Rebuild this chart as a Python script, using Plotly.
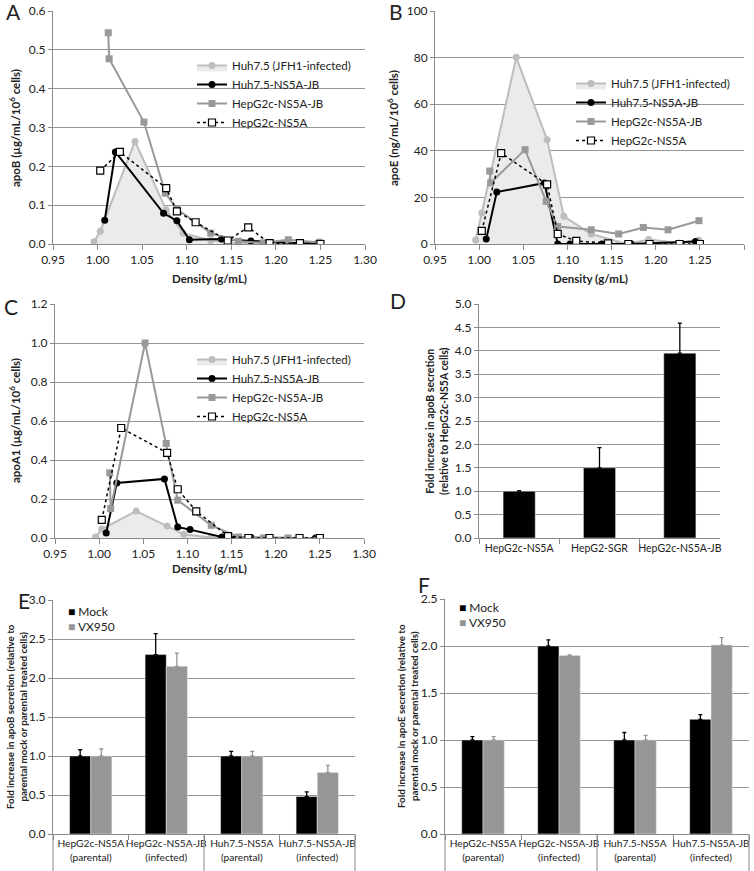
import plotly.graph_objects as go

# ---------------- data ----------------
# densities (g/mL) of the fractions, per series
density_jfh1 = [0.996, 1.003, 1.042, 1.077, 1.096, 1.127, 1.167, 1.192, 1.227, 1.249]
density_huh_jb = [1.008, 1.020, 1.074, 1.089, 1.103, 1.139, 1.172, 1.245]
density_hepg2_jb = [1.012, 1.013, 1.052, 1.076, 1.089, 1.127, 1.158, 1.186, 1.214, 1.249]
density_hepg2 = [1.003, 1.025, 1.077, 1.089, 1.110, 1.146, 1.169, 1.193, 1.227, 1.250]

series_names = ["Huh7.5 (JFH1-infected)", "Huh7.5-NS5A-JB", "HepG2c-NS5A-JB", "HepG2c-NS5A"]

# Panel A: apoB (ug/mL/10^6 cells)
apoB_jfh1 = [0.006, 0.033, 0.264, 0.088, 0.028, 0.009, 0.0, 0.003, 0.002, 0.006]
apoB_huh_jb = [0.061, 0.237, 0.079, 0.060, 0.011, 0.013, 0.008, 0.0]
apoB_hepg2_jb = [0.544, 0.477, 0.314, 0.131, 0.090, 0.028, 0.007, 0.003, 0.011, 0.004]
apoB_hepg2 = [0.189, 0.237, 0.144, 0.084, 0.056, 0.009, 0.043, 0.002, 0.002, 0.0]

# Panel B: apoE (ng/mL/10^6 cells)
apoE_jfh1 = [1.7, 13.3, 80.1, 44.7, 11.9, 4.3, 0.0, 1.9, 0.4, 1.6]
apoE_huh_jb = [2.1, 22.3, 26.2, 0.0, 0.0, 0.0, 0.0, 1.1]
apoE_hepg2_jb = [31.3, 26.2, 40.5, 18.3, 7.5, 6.1, 4.3, 7.1, 6.1, 10.0]
apoE_hepg2 = [5.6, 39.0, 25.6, 4.3, 1.3, 0.3, 0.0, 0.0, 0.0, 0.0]

# Panel C: apoA1 (ug/mL/10^6 cells)
apoA1_jfh1 = [0.005, 0.046, 0.138, 0.062, 0.019, 0.002, 0.0, 0.0, 0.0, 0.0]
apoA1_huh_jb = [0.026, 0.282, 0.303, 0.056, 0.043, 0.005, 0.002, 0.0]
apoA1_hepg2_jb = [0.334, 0.151, 1.0, 0.485, 0.194, 0.065, 0.005, 0.0, 0.0, 0.0]
apoA1_hepg2 = [0.093, 0.564, 0.437, 0.250, 0.137, 0.010, 0.0, 0.0, 0.0, 0.0]

# Panel D
d_categories = ["HepG2c-NS5A", "HepG2-SGR", "HepG2c-NS5A-JB"]
d_values = [1.0, 1.5, 3.95]
d_errors = [0.01, 0.43, 0.64]

# Panels E, F
ef_categories = ["HepG2c-NS5A<br>(parental)", "HepG2c-NS5A-JB<br>(infected)",
                 "Huh7.5-NS5A<br>(parental)", "Huh7.5-NS5A-JB<br>(infected)"]
e_mock = [1.0, 2.30, 1.0, 0.48]
e_mock_err = [0.08, 0.27, 0.06, 0.06]
e_vx950 = [1.0, 2.15, 1.0, 0.79]
e_vx950_err = [0.09, 0.17, 0.06, 0.09]
f_mock = [1.0, 2.0, 1.0, 1.22]
f_mock_err = [0.035, 0.065, 0.08, 0.05]
f_vx950 = [1.0, 1.90, 1.0, 2.01]
f_vx950_err = [0.035, 0.005, 0.05, 0.08]

# ---------------- style ----------------
W, H = 754, 871
FONT = "Lato"
TXT = "#222222"
GRID = "#959595"
AXL = "#8a8a8a"
LIGHT = "#bdbdbd"
FILL = "#ebebeb"
MED = "#999999"
BAR_GREY = "#969696"


def px(x):
    return x / W


def py(y):
    return 1 - y / H


fig = go.Figure()


def axname(i, kind):
    return kind if i == 1 else f"{kind}{i}"


def density_panel(i, legend, jfh, huh, hep_jb, hep):
    xa, ya = axname(i, "x"), axname(i, "y")
    common = dict(xaxis=xa, yaxis=ya, legend=legend, mode="lines+markers")
    fig.add_trace(go.Scatter(x=density_jfh1, y=jfh, name=series_names[0], fill="tozeroy",
                             fillcolor=FILL, line=dict(color=LIGHT, width=2),
                             marker=dict(symbol="circle", size=7, color=LIGHT), **common))
    fig.add_trace(go.Scatter(x=density_huh_jb, y=huh, name=series_names[1],
                             line=dict(color="black", width=2),
                             marker=dict(symbol="circle", size=7, color="black"), **common))
    fig.add_trace(go.Scatter(x=density_hepg2_jb, y=hep_jb, name=series_names[2],
                             line=dict(color=MED, width=2),
                             marker=dict(symbol="square", size=7, color=MED), **common))
    fig.add_trace(go.Scatter(x=density_hepg2, y=hep, name=series_names[3],
                             line=dict(color="black", width=1.5, dash="dot"),
                             marker=dict(symbol="square", size=7, color="white",
                                         line=dict(color="black", width=1.2)), **common))


density_panel(1, "legend", apoB_jfh1, apoB_huh_jb, apoB_hepg2_jb, apoB_hepg2)
density_panel(2, "legend2", apoE_jfh1, apoE_huh_jb, apoE_hepg2_jb, apoE_hepg2)
density_panel(3, "legend3", apoA1_jfh1, apoA1_huh_jb, apoA1_hepg2_jb, apoA1_hepg2)

# Panel D
fig.add_trace(go.Bar(x=d_categories, y=d_values, marker=dict(color="black"), width=0.4,
                     error_y=dict(type="data", array=d_errors, arrayminus=[0] * 3, symmetric=False,
                                  color="black", thickness=1.3, width=2),
                     xaxis="x4", yaxis="y4", showlegend=False, name="apoB"))

# Panels E, F
for i, mock, mock_err, vx, vx_err in [(5, e_mock, e_mock_err, e_vx950, e_vx950_err),
                                       (6, f_mock, f_mock_err, f_vx950, f_vx950_err)]:
    xa, ya = f"x{i}", f"y{i}"
    fig.add_trace(go.Bar(x=ef_categories, y=mock, name="Mock", marker=dict(color="black"),
                         error_y=dict(type="data", array=mock_err, arrayminus=[0] * 4, symmetric=False,
                                      color="black", thickness=1.3, width=2),
                         xaxis=xa, yaxis=ya, showlegend=False))
    fig.add_trace(go.Bar(x=ef_categories, y=vx, name="VX950", marker=dict(color=BAR_GREY),
                         error_y=dict(type="data", array=vx_err, arrayminus=[0] * 4, symmetric=False,
                                      color=BAR_GREY, thickness=1.3, width=2),
                         xaxis=xa, yaxis=ya, showlegend=False))

# ---------------- axes ----------------
dom = {
    1: ([px(53), px(365)], [py(244), py(11)]),
    2: ([px(435), px(744)], [py(244), py(11)]),
    3: ([px(55), px(364)], [py(538), py(304)]),
    4: ([px(479), px(720)], [py(538), py(304)]),
    5: ([px(53), px(355)], [py(834), py(600)]),
    6: ([px(445), px(749)], [py(834), py(599)]),
}
yr = {1: ([0, 0.6], 0.1, ".1f"), 2: ([0, 100], 20, "d"), 3: ([0, 1.2], 0.2, ".1f"),
      4: ([0, 5], 0.5, ".1f"), 5: ([0, 3], 0.5, ".1f"), 6: ([0, 2.5], 0.5, ".1f")}

layout = {}
for i in range(1, 7):
    xd, yd = dom[i]
    xk = "xaxis" if i == 1 else f"xaxis{i}"
    yk = "yaxis" if i == 1 else f"yaxis{i}"
    xa, ya = axname(i, "x"), axname(i, "y")
    xax = dict(domain=xd, anchor=ya, showline=True, linecolor=AXL, linewidth=1, showgrid=False,
               ticks="outside", ticklen=5, tickcolor=AXL, zeroline=False, automargin=False,
               tickfont=dict(size=12, color=TXT, family=FONT))
    if i <= 3:
        xax.update(range=[0.95, 1.30], dtick=0.05, tick0=0.95, tickformat=".2f")
    else:
        xax.update(type="category", tickson="boundaries", tickangle=0,
                   tickfont=dict(size=10.5 if i == 4 else 10.2, color=TXT, family=FONT))
    rng, dt, fmt = yr[i]
    yax = dict(domain=yd, anchor=xa, range=rng, dtick=dt, tickformat=fmt, showline=True,
               linecolor=AXL, linewidth=1, showgrid=True, gridcolor=GRID, gridwidth=1,
               ticks="outside", ticklen=4, tickcolor=AXL, zeroline=False, automargin=False,
               tickfont=dict(size=12, color=TXT, family=FONT))
    layout[xk] = xax
    layout[yk] = yax

fig.update_layout(**layout)

# ---------------- legends ----------------
leg_common = dict(xanchor="left", yanchor="top", bgcolor="rgba(0,0,0,0)", borderwidth=0,
                  font=dict(size=11.5, color=TXT, family=FONT), itemwidth=30, tracegroupgap=0)
fig.update_layout(
    legend=dict(x=px(192), y=py(51), **leg_common),
    legend2=dict(x=px(571), y=py(69), **leg_common),
    legend3=dict(x=px(192), y=py(345), **leg_common),
)

# ---------------- annotations ----------------
ann = []


def text(x, y, t, size=11, bold=False, angle=0, xanchor="center", yanchor="middle"):
    if bold:
        t = f"<b>{t}</b>"
    ann.append(dict(x=x, y=y, xref="paper", yref="paper", text=t, showarrow=False,
                    textangle=angle, xanchor=xanchor, yanchor=yanchor,
                    font=dict(size=size, color=TXT, family=FONT)))


# panel letters
for letter, (lx, ly) in {"A": (13, 12), "B": (396, 12), "C": (11, 307), "D": (398, 300),
                         "E": (24, 600), "F": (424, 584)}.items():
    text(px(lx), py(ly), letter, size=21)

# x titles
text(px(209), py(278), "Density (g/mL)", size=11.5, bold=True)
text(px(590), py(278), "Density (g/mL)", size=11.5, bold=True)
text(px(209.5), py(568), "Density (g/mL)", size=11.5, bold=True)

# y titles
text(px(14), py(128), "apoB (µg/mL/10<sup>6</sup> cells)", size=11.5, bold=True, angle=-90)
text(px(392), py(128), "apoE (ng/mL/10<sup>6</sup> cells)", size=11.5, bold=True, angle=-90)
text(px(14), py(421), "apoA1 (µg/mL/10<sup>6</sup> cells)", size=11.5, bold=True, angle=-90)
text(px(437), py(421), "Fold increase in apoB secretion<br>(relative to HepG2c-NS5A cells)",
     size=10.5, bold=True, angle=-90)
text(px(16), py(717), "Fold increase in apoB secretion (relative to<br>parental mock or parental treated cells)",
     size=9.8, bold=True, angle=-90)
text(px(407), py(716), "Fold increase in apoE secretion (relative to<br>parental mock or parental treated cells)",
     size=9.8, bold=True, angle=-90)

# legends for E and F
for lx, ly in [(66, 611), (457, 607)]:
    text(px(lx), py(ly), "<span style='color:black'>■</span> Mock", size=12, xanchor="left")
    text(px(lx), py(ly + 15), f"<span style='color:{BAR_GREY}'>■</span> VX950", size=12, xanchor="left")

fig.update_layout(annotations=ann)

# group dividers below E and F category axes
shapes = []
for i in (5, 6):
    x0, x1 = dom[i][0]
    for k in (0, 2, 4):
        xx = x0 + (x1 - x0) * k / 4
        shapes.append(dict(type="line", xref="paper", yref="paper", x0=xx, x1=xx,
                           y0=dom[i][1][0], y1=0, line=dict(color=AXL, width=1)))
fig.update_layout(shapes=shapes)

fig.update_layout(width=W, height=H, margin=dict(l=0, r=0, t=0, b=0, autoexpand=False),
                  paper_bgcolor="white", plot_bgcolor="white",
                  barmode="group", bargap=0.44, bargroupgap=0,
                  font=dict(family=FONT, color=TXT))

fig.write_html("out.html", config={"displayModeBar": False},
               post_script="document.body.style.margin='0px';")
